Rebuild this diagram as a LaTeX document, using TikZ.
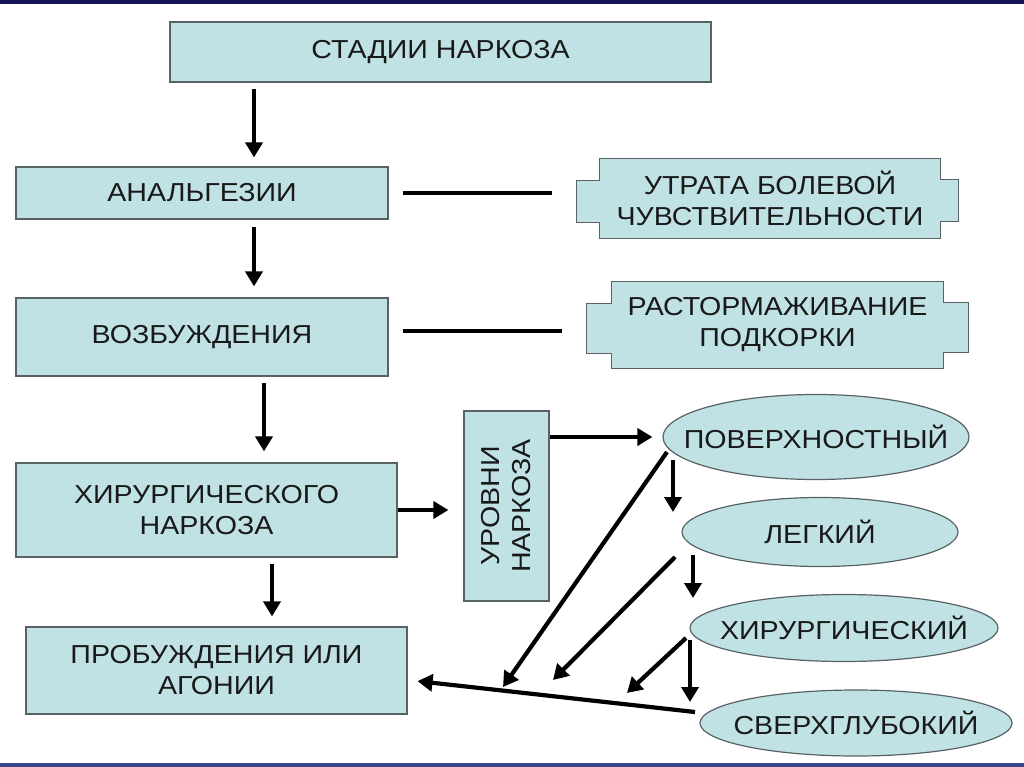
\documentclass[tikz,border=0pt]{standalone}
\usepackage{fontspec}
\setmainfont[FakeStretch=1.1]{Liberation Sans}
\usetikzlibrary{arrows.meta,shapes.geometric,backgrounds}
\definecolor{boxfill}{RGB}{192,226,229}
\definecolor{boxline}{RGB}{88,98,100}
\definecolor{topband}{RGB}{18,22,88}
\definecolor{botband}{RGB}{60,70,140}
\definecolor{txt}{RGB}{25,25,25}
\begin{document}
\begin{tikzpicture}[x=1pt,y=-1pt,
  lbl/.style={align=center,inner sep=0pt,text=txt,font=\fontsize{26}{31}\selectfont},
  box/.style={lbl,draw=boxline,fill=boxfill,line width=1.2pt,rectangle},
  ellbox/.style={draw=boxline,fill=boxfill,line width=1.2pt,ellipse,inner sep=0pt},
  notchbox/.style={draw=boxline,fill=boxfill,line width=1.2pt},
  arr/.style={line width=4.2pt,-{Triangle[length=15pt,width=17pt]}},
  bar/.style={line width=4.2pt}]
\useasboundingbox (0,0) rectangle (1024,767);
\fill[topband] (0,0) rectangle (1024,4);
\fill[botband] (0,763) rectangle (1024,767);

% left column
\node[box,minimum width=541pt,minimum height=60pt] (top) at (440.5,52) {СТАДИИ НАРКОЗА};
\node[box,minimum width=372pt,minimum height=52pt] (an) at (202,193) {АНАЛЬГЕЗИИ};
\node[box,minimum width=372pt,minimum height=78pt] (vz) at (202,337) {ВОЗБУЖДЕНИЯ};
\node[box,minimum width=381pt,minimum height=94pt] (hir) at (206.5,510) {ХИРУРГИЧЕСКОГО\\НАРКОЗА};
\node[box,minimum width=381pt,minimum height=87pt] (pro) at (216.5,670.5) {ПРОБУЖДЕНИЯ ИЛИ\\АГОНИИ};

% notched boxes
\node[lbl,minimum width=340pt,minimum height=79pt] (u1) at (770,198.5) {УТРАТА БОЛЕВОЙ\\ЧУВСТВИТЕЛЬНОСТИ};
\node[lbl,minimum width=331pt,minimum height=86pt] (u2) at (777.5,325) {РАСТОРМАЖИВАНИЕ\\ПОДКОРКИ};
\begin{scope}[on background layer]
\draw[notchbox] (u1.north west) -- (u1.north east) -- ++(0,21) -- ++(18,0) -- ++(0,42) -- ++(-18,0)
  -- (u1.south east) -- (u1.south west) -- ++(0,-16) -- ++(-23,0) -- ++(0,-42) -- ++(23,0) -- cycle;
\draw[notchbox] (u2.north west) -- (u2.north east) -- ++(0,21) -- ++(25,0) -- ++(0,50) -- ++(-25,0)
  -- (u2.south east) -- (u2.south west) -- ++(0,-15) -- ++(-25,0) -- ++(0,-50) -- ++(25,0) -- cycle;
\end{scope}

% levels box
\node[box,minimum width=85pt,minimum height=190pt] (urv) at (506.5,506) {};
\node[lbl,rotate=90] (urvt) at (urv) {УРОВНИ\\НАРКОЗА};

% ellipses
\node[ellbox,minimum width=306pt,minimum height=85pt] (e1) at (816,437) {};
\node[lbl] (e1t) at (e1) {ПОВЕРХНОСТНЫЙ};
\node[ellbox,minimum width=276pt,minimum height=69pt] (e2) at (820,532) {};
\node[lbl] (e2t) at (e2) {ЛЕГКИЙ};
\node[ellbox,minimum width=308pt,minimum height=67pt] (e3) at (844,628) {};
\node[lbl] (e3t) at (e3) {ХИРУРГИЧЕСКИЙ};
\node[ellbox,minimum width=312pt,minimum height=66pt] (e4) at (856,723) {};
\node[lbl] (e4t) at (e4) {СВЕРХГЛУБОКИЙ};

% helper x positions
\coordinate (x1) at (254,0);
\coordinate (x3) at (264,0);
\coordinate (x4) at (272,0);

% vertical arrows on the left
\draw[arr,shorten <=6pt,shorten >=9pt] (top.south -| x1) -- (an.north -| x1);
\draw[arr,shorten <=7pt,shorten >=11pt] (an.south -| x1) -- (vz.north -| x1);
\draw[arr,shorten <=6pt,shorten >=11pt] (vz.south -| x3) -- (hir.north -| x3);
\draw[arr,shorten <=6pt,shorten >=10pt] (hir.south -| x4) -- (pro.north -| x4);

% horizontal bars to notched boxes
\coordinate (b1) at (403,193);
\coordinate (b1e) at (552,193);
\coordinate (b2) at (403,331);
\coordinate (b2e) at (562,331);
\draw[bar] (b1) -- (b1e);
\draw[bar] (b2) -- (b2e);

% to levels
\draw[arr,shorten >=15pt] (hir.east) -- (hir.east -| urv.west);
\coordinate (ly) at (0,437);
\draw[arr,shorten >=10pt] (urv.east |- ly) -- (e1.west |- ly);

% arrows between ellipses
\coordinate (a1s) at (673,460); \coordinate (a1e) at (673,512);
\coordinate (a2s) at (693,555); \coordinate (a2e) at (693,598);
\coordinate (a3s) at (690,640); \coordinate (a3e) at (690,702);
\draw[arr] (a1s) -- (a1e);
\draw[arr] (a2s) -- (a2e);
\draw[arr] (a3s) -- (a3e);

% diagonal arrows
\coordinate (d1s) at (667,452); \coordinate (d1e) at (503,687);
\coordinate (d2s) at (675,557); \coordinate (d2e) at (553,680);
\coordinate (d3s) at (686,638); \coordinate (d3e) at (627,693);
\draw[arr] (d1s) -- (d1e);
\draw[arr] (d2s) -- (d2e);
\draw[arr] (d3s) -- (d3e);

% return arrow to awakening
\coordinate (rs) at (695,712);
\draw[arr,shorten >=10pt] (rs) -- (pro.east |- 0,680);
\end{tikzpicture}
\end{document}
